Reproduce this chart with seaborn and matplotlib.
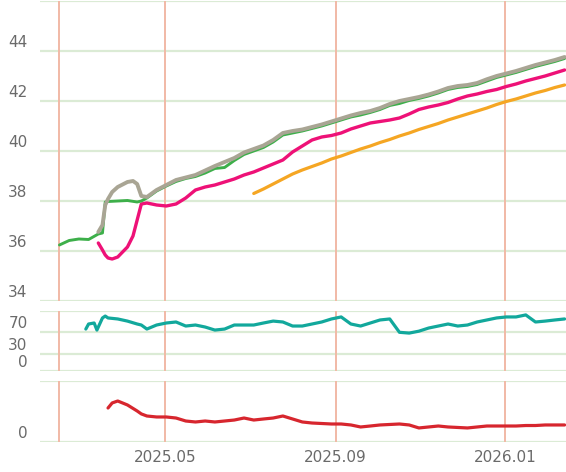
import pandas as pd
import matplotlib.pyplot as plt
import matplotlib.transforms as mtransforms
import seaborn as sns

# weekly sampling dates shared by most series (Fridays)
weekly = [d.strftime("%Y-%m-%d") for d in pd.date_range("2025-04-18", "2026-02-13", freq="7D")]

# price line (green) and its companions
green_early_dates = ["2025-02-14", "2025-02-21", "2025-02-28", "2025-03-07", "2025-03-14", "2025-03-17",
                     "2025-03-19", "2025-03-21", "2025-03-28", "2025-04-04", "2025-04-11", "2025-04-14"]
green_early = [36.24, 36.42, 36.48, 36.46, 36.68, 36.72, 37.96, 37.98, 38.0, 38.02, 37.96, 38.0]
green_late = [38.12, 38.4, 38.6, 38.78, 38.9, 38.98, 39.12, 39.3, 39.34, 39.62, 39.86,
              40.0, 40.14, 40.36, 40.64, 40.72, 40.8, 40.9, 41.0, 41.12,
              41.24, 41.36, 41.44, 41.54, 41.66, 41.82, 41.9, 42.02, 42.1,
              42.2, 42.32, 42.46, 42.54, 42.58, 42.66, 42.8, 42.94,
              43.04, 43.14, 43.26, 43.38, 43.48, 43.58, 43.7]

band_early_dates = ["2025-03-14", "2025-03-17", "2025-03-19", "2025-03-21", "2025-03-24",
                    "2025-03-28", "2025-04-04", "2025-04-08", "2025-04-11", "2025-04-14"]
gray_early = [36.76, 37.04, 37.84, 38.08, 38.36, 38.56, 38.76, 38.8, 38.68, 38.2]
gray_late = [38.16, 38.44, 38.64, 38.84, 38.94, 39.04, 39.22, 39.4, 39.56, 39.72, 39.94,
             40.08, 40.22, 40.44, 40.72, 40.8, 40.86, 40.96, 41.06, 41.18,
             41.3, 41.42, 41.52, 41.6, 41.72, 41.88, 42.0, 42.08, 42.16,
             42.26, 42.38, 42.52, 42.6, 42.64, 42.72, 42.87, 43.0,
             43.1, 43.2, 43.32, 43.44, 43.54, 43.64, 43.76]

pink_early = [36.32, 36.04, 35.84, 35.72, 35.68, 35.76, 36.16, 36.6, 37.24, 37.88]
pink_late = [37.92, 37.84, 37.8, 37.88, 38.12, 38.44, 38.56, 38.64, 38.76, 38.88, 39.04,
             39.16, 39.32, 39.48, 39.64, 39.96, 40.2, 40.44, 40.56, 40.62,
             40.72, 40.88, 41.0, 41.12, 41.18, 41.24, 41.32, 41.48, 41.66,
             41.76, 41.84, 41.94, 42.08, 42.2, 42.28, 42.38, 42.46,
             42.58, 42.68, 42.8, 42.9, 43.0, 43.12, 43.24]

orange_late = [38.3, 38.48, 38.68, 38.88, 39.08, 39.24, 39.38, 39.52, 39.68,
               39.8, 39.94, 40.08, 40.2, 40.34, 40.46, 40.6, 40.72, 40.86,
               40.98, 41.1, 41.24, 41.36, 41.48, 41.6, 41.72, 41.86,
               41.98, 42.08, 42.2, 42.32, 42.42, 42.54, 42.64]

# oscillator (middle panel)
teal_early_dates = ["2025-03-05", "2025-03-07", "2025-03-11", "2025-03-13", "2025-03-17", "2025-03-19",
                    "2025-03-21", "2025-03-28", "2025-04-04", "2025-04-11", "2025-04-14"]
teal_early = [74.8, 83.8, 85.6, 73, 94.6, 98, 94.6, 92.8, 89, 83.8, 82]
teal_late = [74.8, 82, 85.6, 87.4, 80.2, 82, 78.4, 73, 74.8, 82, 82,
             82, 85.6, 89, 87.4, 80.2, 80.2, 83.8, 87.4, 92.8,
             96.4, 83.8, 80.2, 85.6, 91, 92.8, 69, 67.6, 71,
             76.6, 80.2, 83.8, 80.2, 82, 87.4, 91, 94.6,
             96.4, 96.4, 100, 87.4, 89, 91, 92.8]

# lower indicator (bottom panel)
red_early_dates = ["2025-03-21", "2025-03-24", "2025-03-28", "2025-04-04", "2025-04-11", "2025-04-14"]
red_early = [55.7, 64, 67.2, 60.7, 50.8, 46]
red_late = [42.6, 41, 41, 39.3, 34.4, 32.8, 34.4, 32.8, 34.4, 36, 39.3,
            36, 37.7, 39.3, 42.6, 37.7, 32.8, 31.1, 30.3, 29.5,
            29.5, 27.9, 24.6, 26.2, 27.9, 28.7, 29.5, 27.9, 23,
            24.6, 26.2, 24.6, 23.8, 23, 24.6, 26.2, 26.2,
            26.2, 26.2, 27, 27, 27.9, 27.9, 27.9]

x_ticks = ["2025-02-14", "2025-05-01", "2025-09-01", "2026-01-01"]
x_labels = ["", "2025.05", "2025.09", "2026.01"]


def frame(dates, values):
    return pd.DataFrame({"date": pd.to_datetime(dates), "value": values})


sns.set_style("white")
fig = plt.figure(figsize=(5.66, 4.72), dpi=100)
ax_top = fig.add_axes([0.0707, 0.3623, 0.9293, 0.6356])
ax_mid = fig.add_axes([0.0707, 0.2140, 0.9293, 0.1271])
ax_bot = fig.add_axes([0.0707, 0.0636, 0.9293, 0.1292])

grid_green = "#dbebd5"
vline_col = "#f1b9a6"
label_col = "#6a6a6a"

lines_top = [
    (frame(weekly[11:], orange_late), "#f5a623", 2.3),
    (frame(band_early_dates + weekly, pink_early + pink_late), "#ee1177", 2.4),
    (frame(green_early_dates + weekly, green_early + green_late), "#3daf4a", 2.1),
    (frame(band_early_dates + weekly, gray_early + gray_late), "#a9a594", 2.8),
]
for df, col, lw in lines_top:
    sns.lineplot(data=df, x="date", y="value", ax=ax_top, color=col, linewidth=lw,
                 sort=False, estimator=None)

sns.lineplot(data=frame(teal_early_dates + weekly, teal_early + teal_late), x="date", y="value",
             ax=ax_mid, color="#12a89c", linewidth=2.3, sort=False, estimator=None)
sns.lineplot(data=frame(red_early_dates + weekly, red_early + red_late), x="date", y="value",
             ax=ax_bot, color="#d7262e", linewidth=2.3, sort=False, estimator=None)

ax_top.set_ylim(34, 46)
ax_top.set_yticks([34, 36, 38, 40, 42, 44, 46])
ax_top.set_yticklabels(["34", "36", "38", "40", "42", "44", ""])
ax_mid.set_ylim(0, 107)
ax_mid.set_yticks([0, 30, 70, 107])
ax_mid.set_yticklabels(["0", "30", "70", ""])
ax_bot.set_ylim(0, 100)
ax_bot.set_yticks([0, 100])
ax_bot.set_yticklabels(["0", ""])

xt = pd.to_datetime(x_ticks)
offset = mtransforms.ScaledTranslation(0, 7.2 / 72, fig.dpi_scale_trans)
for ax in (ax_top, ax_mid, ax_bot):
    ax.set_xlim(pd.Timestamp("2025-01-31"), pd.Timestamp("2026-02-14"))
    ax.set_xticks(xt)
    ax.set_xlabel("")
    ax.set_ylabel("")
    for s in ax.spines.values():
        s.set_visible(False)
    ax.yaxis.grid(True, color=grid_green, linewidth=1.6)
    ax.xaxis.grid(False)
    ax.set_axisbelow(True)
    for d in xt:
        ax.axvline(d, color=vline_col, linewidth=1.4, zorder=0.8)
    ax.tick_params(axis="both", length=0, labelsize=11, labelcolor=label_col)
    ax.tick_params(axis="y", pad=9)
    for lab in ax.get_yticklabels():
        lab.set_transform(lab.get_transform() + offset)

ax_top.set_xticklabels([])
ax_mid.set_xticklabels([])
ax_bot.set_xticklabels(x_labels)
ax_bot.tick_params(axis="x", pad=6)

fig.savefig("out.png", dpi=100, facecolor="white")
plt.close(fig)
